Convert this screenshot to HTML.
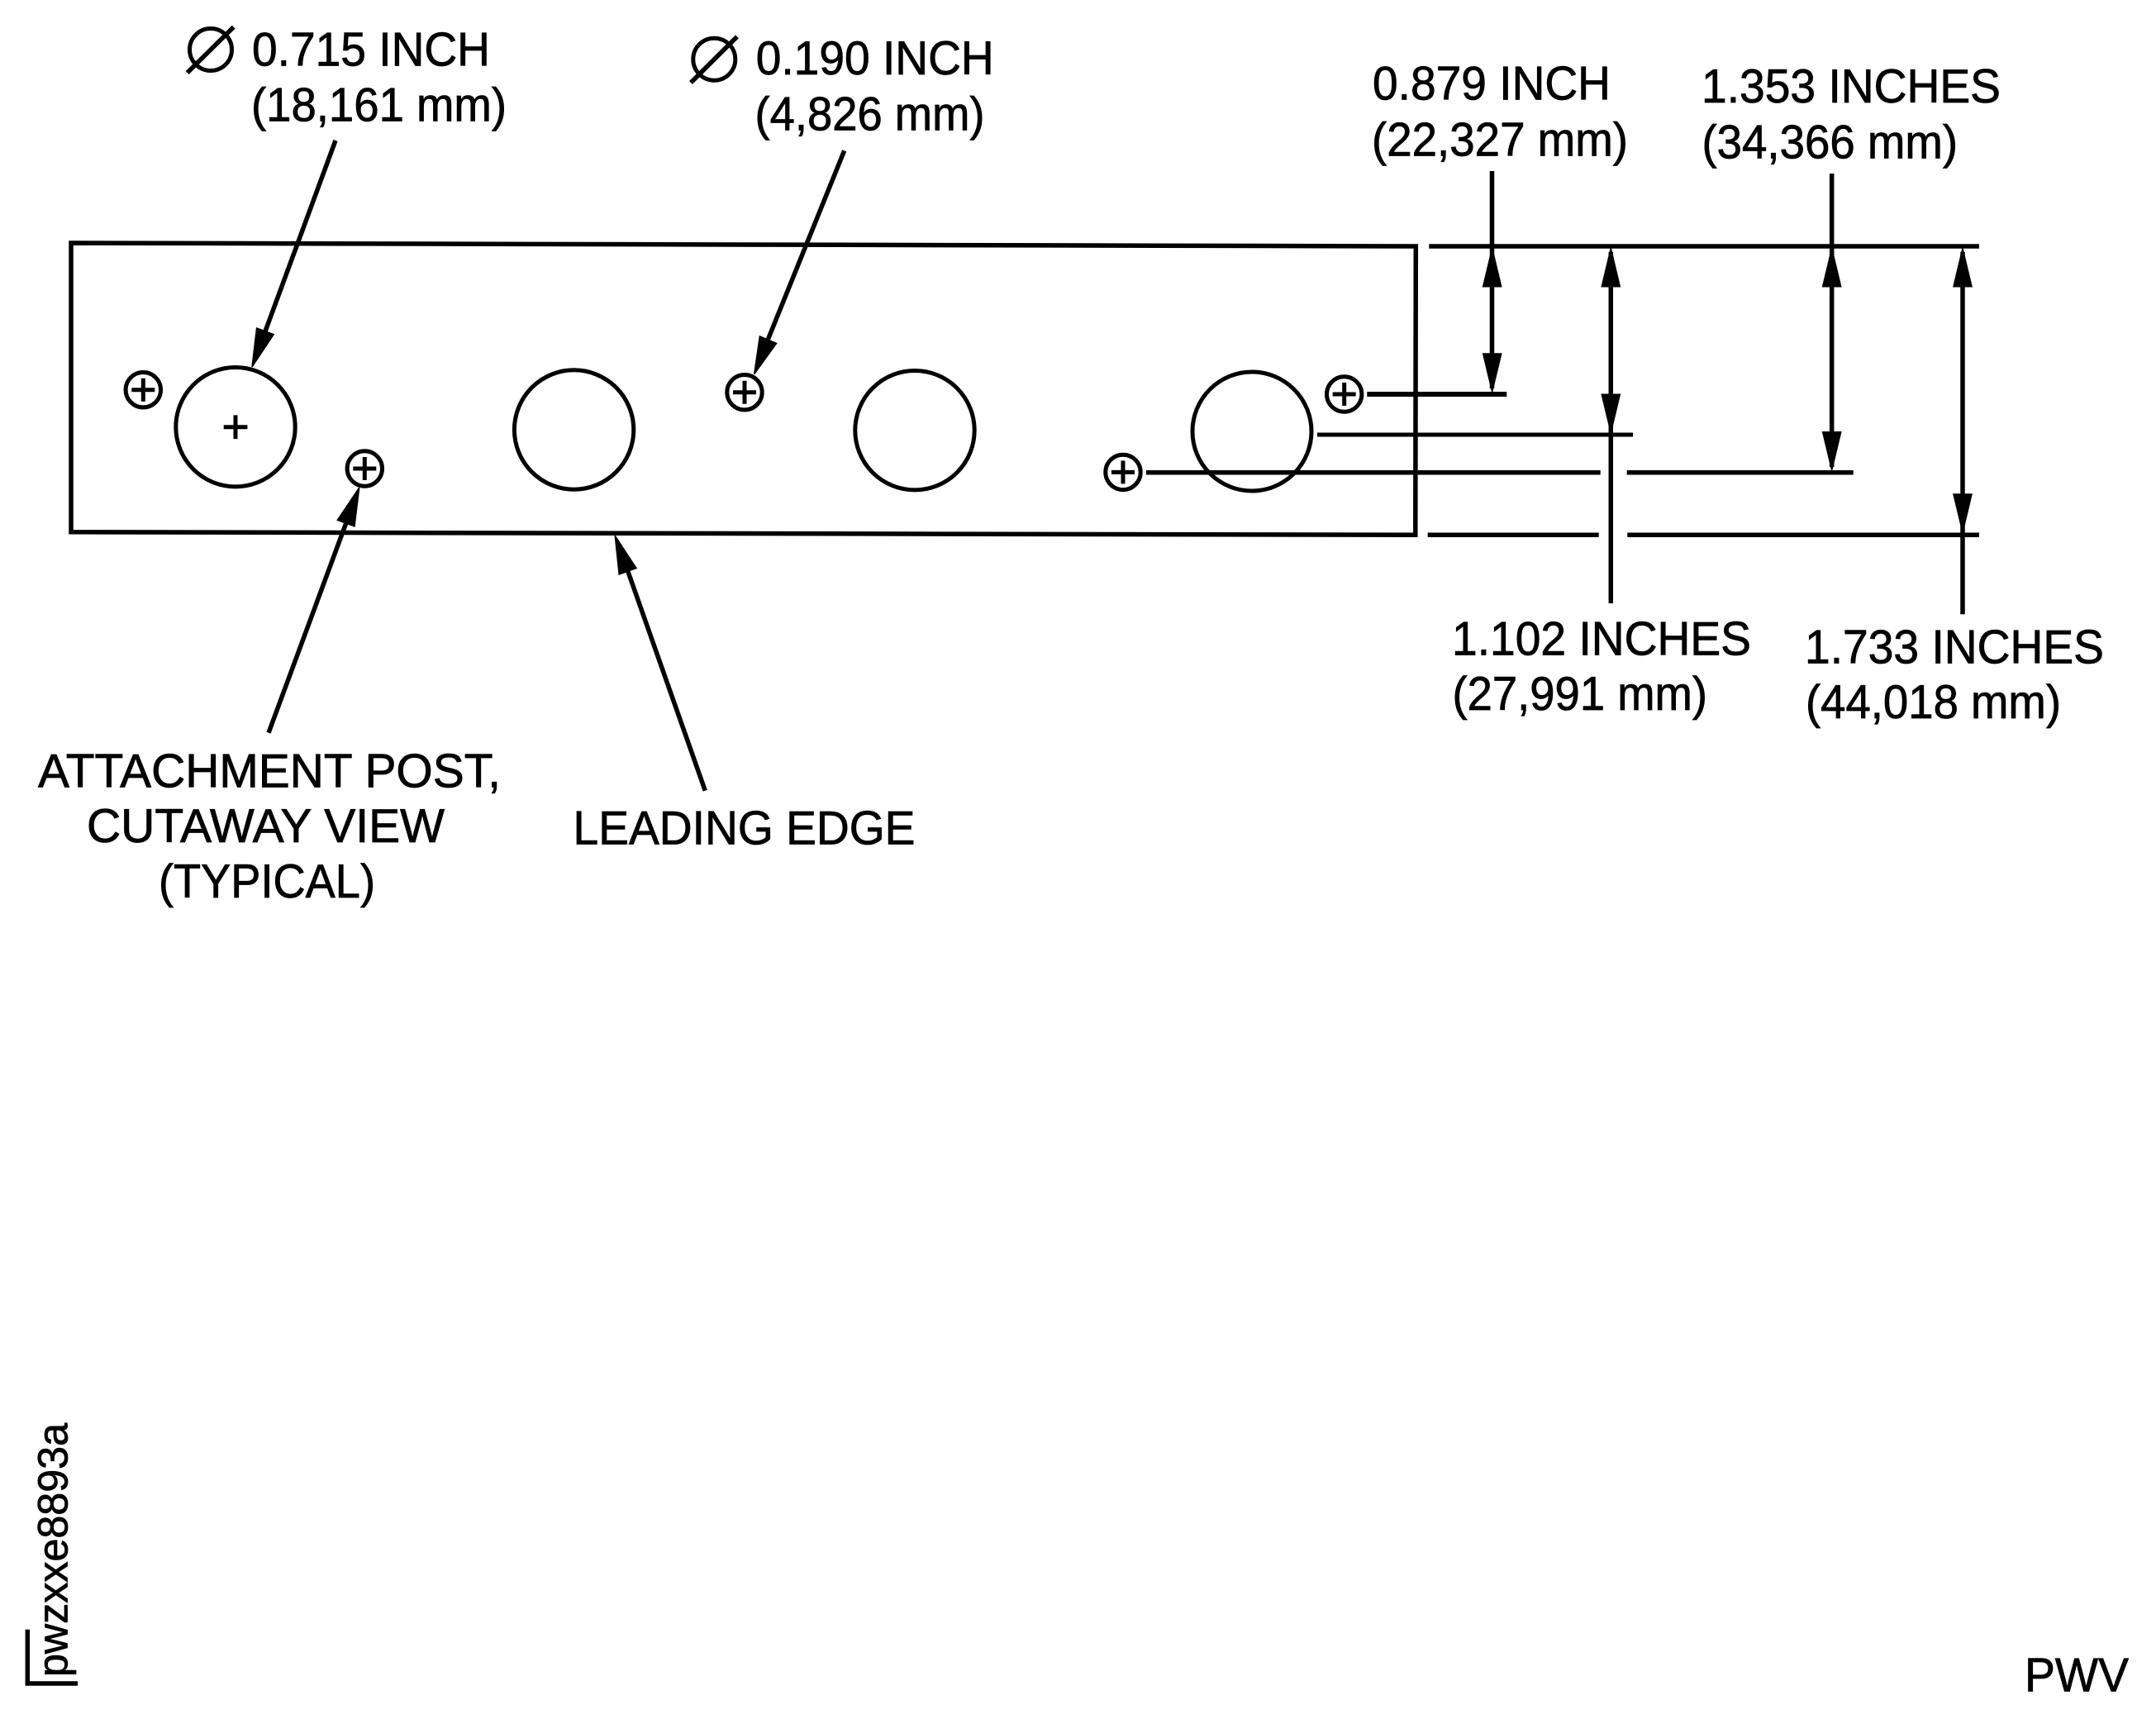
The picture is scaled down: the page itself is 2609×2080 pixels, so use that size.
<!DOCTYPE html>
<html><head><meta charset="utf-8"><style>
html,body{margin:0;padding:0;background:#fff}
svg{display:block}
text{font-family:"Liberation Sans",Arial,sans-serif;font-size:57.5px;fill:#000;stroke:#000;stroke-width:.8px}
</style></head><body>
<svg xmlns="http://www.w3.org/2000/svg" width="2609" height="2080" viewBox="0 0 2609 2080">
<rect width="2609" height="2080" fill="#fff"/>
<g fill="none" stroke="#000" stroke-width="5.5">
<path d="M86,294 L1713.3,298 L1712.8,647.3 L86,643.8 Z"/>
<line x1="1729.3" y1="298" x2="2395" y2="298"/>
<line x1="1727.7" y1="647.3" x2="1934.7" y2="647.3"/>
<line x1="1969.3" y1="647.3" x2="2395" y2="647.3"/>
<line x1="1654.3" y1="477" x2="1823.3" y2="477" stroke-width="6"/>
<line x1="1594" y1="526" x2="1976" y2="526" stroke-width="5"/>
<line x1="1387" y1="571.7" x2="1936.7" y2="571.7"/>
<line x1="1968.7" y1="571.7" x2="2242.7" y2="571.7"/>
<line x1="1805.5" y1="207" x2="1805.5" y2="470"/>
<line x1="1949.3" y1="305" x2="1949.3" y2="730"/>
<line x1="2216.7" y1="210" x2="2216.7" y2="565"/>
<line x1="2375" y1="305" x2="2375" y2="743.3"/>
<line x1="406" y1="170" x2="318" y2="409"/>
<line x1="1021.7" y1="182.3" x2="926" y2="419"/>
<line x1="325" y1="886.7" x2="421" y2="627"/>
<line x1="853.3" y1="956.7" x2="758" y2="686"/>
<g stroke-width="5">
<circle cx="285" cy="516.7" r="72.2"/>
<circle cx="694.6" cy="520" r="72.2"/>
<circle cx="1107" cy="520.7" r="72.2"/>
<circle cx="1515" cy="522" r="72"/>
</g>
<g stroke-width="5">
<circle cx="173.3" cy="471.7" r="21.2"/>
<circle cx="441.3" cy="567" r="21.2"/>
<circle cx="901" cy="474.7" r="21.2"/>
<circle cx="1626.7" cy="477" r="21.2"/>
<circle cx="1359" cy="571.4" r="21.2"/>
<path d="M159.3,471.7h28M173.3,457.7v28M427.3,567h28M441.3,553v28M887,474.7h28M901,460.7v28M1612.7,477h28M1626.7,463v28M1345,571.4h28M1359,557.4v28"/>
</g>
<path d="M270.7,516.7h28.7M285,502.4v28.7" stroke-width="5"/>
<circle cx="255" cy="60" r="25.5" stroke-width="5"/>
<line x1="226.7" y1="88" x2="282.7" y2="32.7"/>
<circle cx="864.3" cy="71.7" r="25.5" stroke-width="5"/>
<line x1="836" y1="100" x2="892" y2="44.3"/>
<path d="M33.3,1971.7V2037H94"/>
</g>
<g fill="#000" stroke="#000" stroke-width="1.5" stroke-linejoin="miter">
<polygon points="305,444 331.2,404.6 310.6,397"/>
<polygon points="912.7,452.7 939.6,415.5 919.4,407"/>
<polygon points="434.7,590 429,636.9 408.4,629.3"/>
<polygon points="744.3,648.3 770,687.5 749.2,695"/>
<polygon points="1805.7,300.7 1794.7,346.7 1816.7,346.7"/>
<polygon points="1805.7,474 1794.7,428 1816.7,428"/>
<polygon points="1949.3,300.7 1938.3,346.7 1960.3,346.7"/>
<polygon points="1949.3,523.3 1938.3,477.3 1960.3,477.3"/>
<polygon points="2216.7,300.7 2205.7,346.7 2227.7,346.7"/>
<polygon points="2216.7,568.7 2205.7,522.7 2227.7,522.7"/>
<polygon points="2375,300.7 2364,346.7 2386,346.7"/>
<polygon points="2375,644 2364,598 2386,598"/>
</g>
<g>
<text x="305" y="79.3" textLength="288" lengthAdjust="spacingAndGlyphs">0.715 INCH</text>
<text x="304" y="146.5" textLength="309" lengthAdjust="spacingAndGlyphs">(18,161 mm)</text>
<text x="914.7" y="90" textLength="288" lengthAdjust="spacingAndGlyphs">0.190 INCH</text>
<text x="913.5" y="157.5" textLength="278" lengthAdjust="spacingAndGlyphs">(4,826 mm)</text>
<text x="1661" y="120.5" textLength="288" lengthAdjust="spacingAndGlyphs">0.879 INCH</text>
<text x="1660" y="188.5" textLength="310" lengthAdjust="spacingAndGlyphs">(22,327 mm)</text>
<text x="2059" y="124" textLength="362" lengthAdjust="spacingAndGlyphs">1.353 INCHES</text>
<text x="2059.5" y="191.5" textLength="309.5" lengthAdjust="spacingAndGlyphs">(34,366 mm)</text>
<text x="1757" y="792.5" textLength="362" lengthAdjust="spacingAndGlyphs">1.102 INCHES</text>
<text x="1757.5" y="859" textLength="308.5" lengthAdjust="spacingAndGlyphs">(27,991 mm)</text>
<text x="2184" y="802.5" textLength="362" lengthAdjust="spacingAndGlyphs">1.733 INCHES</text>
<text x="2185" y="869" textLength="309" lengthAdjust="spacingAndGlyphs">(44,018 mm)</text>
<text x="46" y="952.7" textLength="560" lengthAdjust="spacingAndGlyphs">ATTACHMENT POST,</text>
<text x="105" y="1019" textLength="433" lengthAdjust="spacingAndGlyphs">CUTAWAY VIEW</text>
<text x="192" y="1086" textLength="262" lengthAdjust="spacingAndGlyphs">(TYPICAL)</text>
<text x="693.5" y="1021.7" textLength="414" lengthAdjust="spacingAndGlyphs">LEADING EDGE</text>
<text x="2450" y="2046.7" textLength="126" lengthAdjust="spacingAndGlyphs">PWV</text>
<text transform="translate(81.7,2029) rotate(-90)" x="0" y="0" style="font-size:51px" textLength="307" lengthAdjust="spacingAndGlyphs">pwzxxe8893a</text>
</g>
</svg>
</body></html>
